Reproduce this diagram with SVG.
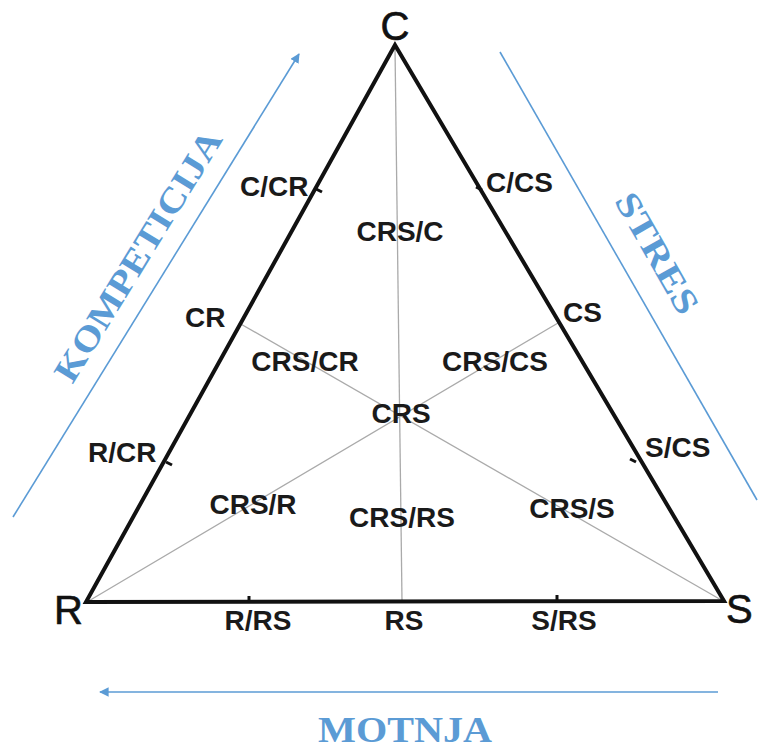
<svg xmlns="http://www.w3.org/2000/svg" width="758" height="751" viewBox="0 0 758 751">
<style>
.lbl{font-family:"Liberation Sans",Arial,sans-serif;font-weight:bold;font-size:28px;fill:#1a1a1a}
.vtx{font-family:"Liberation Sans",Arial,sans-serif;font-size:40px;fill:#111;stroke:#111;stroke-width:0.6}
.axis{font-family:"Liberation Serif","Times New Roman",serif;font-weight:bold;font-size:35px;fill:#5b9bd5}
.blue{stroke:#5b9bd5;stroke-width:1.6;fill:none}
.grey{stroke:#aaaaaa;stroke-width:1.3;fill:none}
.tick{stroke:#111;stroke-width:3;fill:none}
</style>
<defs>
<marker id="ah" viewBox="0 0 10 10" refX="9" refY="5" markerWidth="6" markerHeight="6" orient="auto" markerUnits="strokeWidth">
<path d="M0,0 L10,5 L0,10 z" fill="#5b9bd5"/>
</marker>
</defs>
<rect width="758" height="751" fill="#fff"/>
<g id="connectors">
<line class="grey" x1="395" y1="47" x2="402" y2="601"/>
<line class="grey" x1="239" y1="323" x2="723" y2="601"/>
<line class="grey" x1="558" y1="323" x2="87" y2="602"/>
<line class="blue" x1="13" y1="517" x2="299" y2="54" marker-end="url(#ah)"/>
<line class="blue" x1="500" y1="52" x2="757" y2="500"/>
<line class="blue" x1="718" y1="692" x2="100" y2="692" stroke-width="2" marker-end="url(#ah)"/>
</g>
<g id="triangle">
<polygon points="395,45 86,602 724,601" fill="none" stroke="#111" stroke-width="4" stroke-linejoin="miter"/>
<line class="tick" x1="316" y1="189" x2="322" y2="192"/>
<line class="tick" x1="476" y1="187" x2="482" y2="190"/>
<line class="tick" x1="166" y1="462" x2="172" y2="465"/>
<line class="tick" x1="630" y1="459" x2="636" y2="462"/>
<line class="tick" x1="249" y1="596" x2="249" y2="601"/>
<line class="tick" x1="557" y1="595" x2="557" y2="600"/>
</g>
<g id="node-C"><text class="vtx" x="395" y="40" text-anchor="middle">C</text></g>
<g id="node-R"><text class="vtx" x="54" y="624">R</text></g>
<g id="node-S"><text class="vtx" x="726" y="623">S</text></g>
<g id="node-C-CR"><text class="lbl" x="240" y="196">C/CR</text></g>
<g id="node-C-CS"><text class="lbl" x="486" y="192">C/CS</text></g>
<g id="node-CRS-C"><text class="lbl" x="400" y="241" text-anchor="middle">CRS/C</text></g>
<g id="node-CR"><text class="lbl" x="185" y="327">CR</text></g>
<g id="node-CS"><text class="lbl" x="563" y="322">CS</text></g>
<g id="node-CRS-CR"><text class="lbl" x="305" y="371" text-anchor="middle">CRS/CR</text></g>
<g id="node-CRS-CS"><text class="lbl" x="495" y="371" text-anchor="middle">CRS/CS</text></g>
<g id="node-CRS"><text class="lbl" x="401" y="423" text-anchor="middle">CRS</text></g>
<g id="node-R-CR"><text class="lbl" x="88" y="462">R/CR</text></g>
<g id="node-S-CS"><text class="lbl" x="645" y="457">S/CS</text></g>
<g id="node-CRS-R"><text class="lbl" x="253" y="514" text-anchor="middle">CRS/R</text></g>
<g id="node-CRS-RS"><text class="lbl" x="402" y="527" text-anchor="middle">CRS/RS</text></g>
<g id="node-CRS-S"><text class="lbl" x="572" y="518" text-anchor="middle">CRS/S</text></g>
<g id="node-R-RS"><text class="lbl" x="258" y="630" text-anchor="middle">R/RS</text></g>
<g id="node-RS"><text class="lbl" x="404" y="630" text-anchor="middle">RS</text></g>
<g id="node-S-RS"><text class="lbl" x="564" y="630" text-anchor="middle">S/RS</text></g>
<g id="axis-kompeticija"><text class="axis" transform="translate(148,262) rotate(-58.4)" text-anchor="middle" textLength="288" lengthAdjust="spacingAndGlyphs">KOMPETICIJA</text></g>
<g id="axis-stres"><text class="axis" transform="translate(647,259) rotate(60.2)" text-anchor="middle" textLength="134" lengthAdjust="spacingAndGlyphs">STRES</text></g>
<g id="axis-motnja"><text class="axis" x="405" y="742" text-anchor="middle" textLength="174" lengthAdjust="spacingAndGlyphs">MOTNJA</text></g>
</svg>
